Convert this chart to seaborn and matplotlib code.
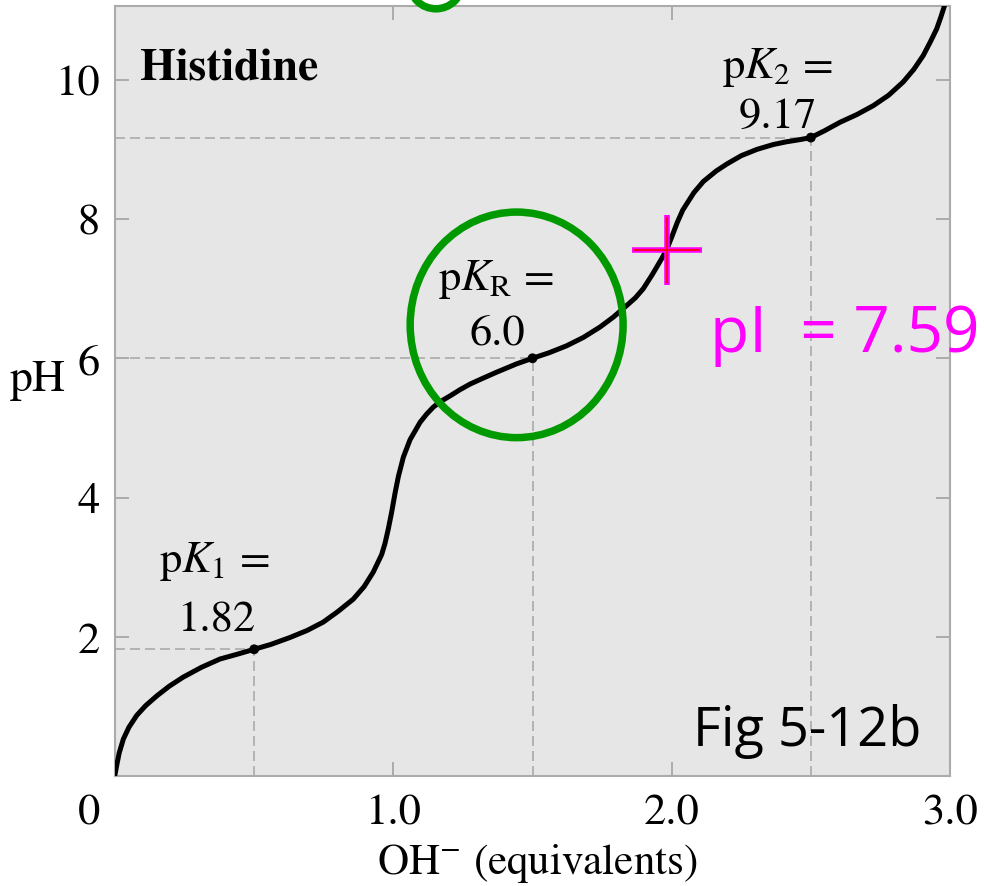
import matplotlib
matplotlib.use("Agg")
import matplotlib.pyplot as plt
from matplotlib.patches import Ellipse
import seaborn as sns
import pandas as pd

# titration curve: OH- equivalents vs pH
oh_eq = [0.000, 0.006, 0.015, 0.030, 0.050, 0.078, 0.110, 0.150, 0.195, 0.245,
         0.310, 0.377, 0.440, 0.500, 0.560, 0.629, 0.690, 0.748, 0.800, 0.856,
         0.895, 0.928, 0.958, 0.970, 0.982, 0.994, 1.006, 1.018, 1.036, 1.060,
         1.096, 1.120, 1.144, 1.170, 1.204, 1.240, 1.276, 1.320, 1.371, 1.443,
         1.500, 1.560, 1.623, 1.683, 1.743, 1.790, 1.839, 1.870, 1.898, 1.930,
         1.964, 1.983, 2.000, 2.020, 2.040, 2.080, 2.114, 2.160, 2.198, 2.250,
         2.306, 2.365, 2.413, 2.460, 2.500, 2.550, 2.605, 2.665, 2.725, 2.780,
         2.832, 2.870, 2.904, 2.930, 2.952, 2.967, 2.980]
ph = [0.02, 0.15, 0.33, 0.53, 0.70, 0.87, 1.01, 1.15, 1.29, 1.42,
      1.56, 1.68, 1.75, 1.82, 1.89, 1.99, 2.09, 2.21, 2.36, 2.54,
      2.72, 2.93, 3.18, 3.34, 3.55, 3.79, 4.06, 4.30, 4.58, 4.83,
      5.08, 5.20, 5.30, 5.38, 5.46, 5.55, 5.63, 5.71, 5.80, 5.92,
      6.00, 6.08, 6.18, 6.30, 6.45, 6.59, 6.76, 6.87, 7.00, 7.20,
      7.43, 7.57, 7.74, 7.95, 8.13, 8.38, 8.54, 8.69, 8.79, 8.91,
      9.00, 9.07, 9.11, 9.14, 9.17, 9.27, 9.39, 9.50, 9.63, 9.78,
      9.97, 10.15, 10.35, 10.55, 10.73, 10.90, 11.06]

# pK points
pk_x = [0.5, 1.5, 2.5]
pk_y = [1.82, 6.0, 9.17]
pk_names = [r"p$K_1$ =", r"p$K_{\mathrm{R}}$ =", r"p$K_2$ ="]
pk_values = ["1.82", "6.0", "9.17"]

# isoelectric point marker
pi_x = 1.983
pi_y = 7.56
pi_text = "pI  = 7.59"

x_ticks = [1.0, 2.0, 3.0]
x_tick_labels = ["1.0", "2.0", "3.0"]
y_ticks = [2, 4, 6, 8, 10]

sns.set_style("ticks")
plt.rcParams["font.family"] = ["STIXGeneral", "DejaVu Serif"]
plt.rcParams["mathtext.fontset"] = "stix"
plt.rcParams["text.color"] = "black"
plt.rcParams["axes.labelcolor"] = "black"
plt.rcParams["xtick.labelcolor"] = "black"
plt.rcParams["ytick.labelcolor"] = "black"

bg = "#e6e6e6"
edge = "#ababab"
green = "#009900"

fig = plt.figure(figsize=(9.84, 8.87), dpi=100)
ax = fig.add_axes([115 / 984, 110 / 887, 835 / 984, 770 / 887])
ax.set_facecolor(bg)

# dashed guide lines for each pK
for x, y in zip(pk_x, pk_y):
    ax.plot([0, x], [y, y], color=edge, lw=1.2, ls=(0, (6, 3)), zorder=1)
    ax.plot([x, x], [0, y], color=edge, lw=1.2, ls=(0, (6, 3)), zorder=1)

curve = pd.DataFrame({"oh": oh_eq, "ph": ph})
sns.lineplot(data=curve, x="oh", y="ph", color="black", linewidth=3.6, ax=ax,
             zorder=3, sort=False)
sns.scatterplot(x=pk_x, y=pk_y, color="black", s=50, edgecolor="none", ax=ax, zorder=4)

ax.set_xlim(0, 3)
ax.set_ylim(0, 11.06)
ax.set_xticks(x_ticks)
ax.set_xticklabels(x_tick_labels)
ax.set_yticks(y_ticks)
ax.tick_params(direction="in", length=10, width=1.4, color=edge, labelsize=32,
               labelcolor="black", top=True, right=True)
ax.tick_params(axis="x", pad=13)
ax.tick_params(axis="y", pad=11)
for s in ax.spines.values():
    s.set_color(edge)
    s.set_linewidth(1.5)

# origin label sits left of the corner
ax.text(-0.092, -0.0234, "0", transform=ax.get_xaxis_transform(),
        ha="center", va="top", fontsize=32, color="black")

ax.set_xlabel(r"OH$^{-}$ (equivalents)", fontsize=31, color="black")
ax.xaxis.set_label_coords(0.506, -0.085)
ax.set_ylabel("pH", fontsize=33, rotation=0, ha="center", va="center", color="black")
ax.yaxis.set_label_coords(-0.092, 0.515)

ax.text(0.09, 10.01, "Histidine", fontsize=33, fontweight="bold", ha="left",
        va="baseline", color="black")

# pK annotations, name over value
name_pos = [(0.356, 2.95), (1.368, 7.0), (2.380, 10.04)]
value_pos = [(0.363, 2.09), (1.374, 6.21), (2.380, 9.32)]
for nm, val, (nx, ny), (vx, vy) in zip(pk_names, pk_values, name_pos, value_pos):
    ax.text(nx, ny, nm, fontsize=32, ha="center", va="baseline", color="black")
    ax.text(vx, vy, val, fontsize=32, ha="center", va="baseline", color="black")

# green circles
ax.add_patch(Ellipse((1.443, 6.48), 0.765, 3.24, fill=False, ec=green, lw=5.4, zorder=5))
ax.add_patch(Ellipse((1.153, 11.38), 0.187, 0.72, fill=False, ec=green, lw=5.4,
                     zorder=5, clip_on=False))

# pI cross
ax.plot([pi_x], [pi_y], marker="+", ms=50, mew=4, color="#ff00ff", zorder=6)
ax.plot([pi_x], [pi_y], marker="+", ms=48, mew=1.2, color="red", zorder=7)
ax.text(2.138, 6.11, pi_text, color="#ff00ff", fontsize=46,
        family=["Open Sans", "DejaVu Sans"], ha="left", va="baseline", zorder=7)

ax.text(2.077, 0.445, "Fig 5-12b", color="black", fontsize=39,
        family=["Open Sans", "DejaVu Sans"], ha="left", va="baseline", zorder=7)

fig.savefig("out.png", dpi=100, facecolor="white")
